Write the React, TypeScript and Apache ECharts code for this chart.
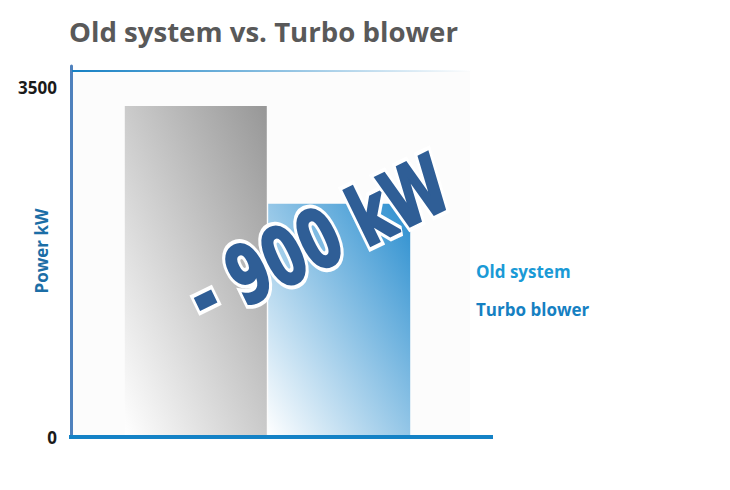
import { useEffect, useRef } from "react";
import * as echarts from "echarts";

const CATEGORIES = ["Power"];
const SERIES_NAMES = ["Old system", "Turbo blower"];
const OLD_VALUES = [3320];
const TURBO_VALUES = [2340];
const Y_LABELS = [0, 3500];
const Y_MAX = 3720;
const TITLE = "Old system vs. Turbo blower";
const Y_NAME = "Power kW";
const SAVING = "- 900 kW";

const FONT = '"Open Sans", "Noto Sans", sans-serif';
const SAVING_FONT = 'bold 80px "DejaVu Sans", sans-serif';
const SAVING_BLUE = "#2f5e96";

// the big rotated "- 900 kW" label, drawn twice: white outline + shadow underneath, thickened fill on top
function savingText(layer: "under" | "over") {
  const under = layer === "under";
  return {
    type: "text",
    z: under ? 10 : 11,
    x: 318,
    y: 240,
    scaleX: 0.7,
    rotation: (26 * Math.PI) / 180,
    style: {
      text: SAVING,
      font: SAVING_FONT,
      fill: SAVING_BLUE,
      stroke: under ? "#ffffff" : SAVING_BLUE,
      lineWidth: under ? 11 : 3,
      strokeFirst: true,
      align: "center",
      verticalAlign: "middle",
      textAlign: "center",
      textVerticalAlign: "middle",
      shadowBlur: under ? 6 : 0,
      shadowColor: under ? "rgba(0,0,0,0.35)" : "transparent",
      shadowOffsetX: under ? 3 : 0,
      shadowOffsetY: under ? 3 : 0,
    },
  };
}

export default function App() {
  const chartRef = useRef<HTMLDivElement>(null);

  useEffect(() => {
    if (!chartRef.current) return;
    const chart = echarts.init(chartRef.current, null, { renderer: "svg" });

    chart.setOption({
      animation: false,
      backgroundColor: "#ffffff",
      title: {
        text: TITLE,
        left: 64,
        top: 12,
        textStyle: { fontSize: 27.6, fontWeight: "bold", color: "#595959", fontFamily: FONT },
      },
      legend: {
        orient: "vertical",
        left: 466,
        top: 257,
        itemWidth: 0,
        itemHeight: 18,
        itemGap: 20,
        icon: "rect",
        selectedMode: false,
        textStyle: { fontSize: 17, fontWeight: "bold", fontFamily: FONT },
        data: [
          { name: SERIES_NAMES[0], textStyle: { color: "#1a9ad6" } },
          { name: SERIES_NAMES[1], textStyle: { color: "#1580c2" } },
        ],
      },
      grid: { left: 71, right: 266, top: 66, bottom: 53 },
      xAxis: {
        type: "category",
        data: CATEGORIES,
        axisLine: { show: false },
        axisTick: { show: false },
        axisLabel: { show: false },
      },
      yAxis: {
        type: "value",
        min: 0,
        max: Y_MAX,
        interval: 3500,
        splitLine: { show: false },
        axisTick: { show: false },
        axisLine: { show: true, lineStyle: { color: "#4f81bd", width: 3 } },
        axisLabel: {
          margin: 14,
          fontSize: 17,
          fontWeight: "bold",
          color: "#1a1a1a",
          fontFamily: FONT,
          formatter: (v: number) => (Y_LABELS.includes(v) ? String(v) : ""),
        },
      },
      series: [
        {
          name: SERIES_NAMES[0],
          type: "bar",
          data: OLD_VALUES,
          barWidth: 142,
          barGap: "1%",
          itemStyle: {
            color: new echarts.graphic.LinearGradient(1, 0, 0, 1, [
              { offset: 0, color: "#979797" },
              { offset: 1, color: "#ffffff" },
            ]),
          },
        },
        {
          name: SERIES_NAMES[1],
          type: "bar",
          data: TURBO_VALUES,
          barWidth: 142,
          barGap: "1%",
          itemStyle: {
            color: new echarts.graphic.LinearGradient(1, 0, 0, 1, [
              { offset: 0, color: "#2a8ecf" },
              { offset: 1, color: "#ffffff" },
            ]),
          },
        },
      ],
      graphic: [
        {
          type: "rect",
          z: 0,
          shape: { x: 72, y: 71, width: 398, height: 366 },
          style: { fill: "#fcfcfc" },
        },
        {
          type: "rect",
          z: 1,
          shape: { x: 72, y: 70, width: 400, height: 2 },
          style: {
            fill: new echarts.graphic.LinearGradient(0, 0, 1, 0, [
              { offset: 0, color: "#1580c4" },
              { offset: 1, color: "rgba(21,128,196,0)" },
            ]),
          },
        },
        {
          type: "rect",
          z: 5,
          shape: { x: 69, y: 435, width: 424, height: 4 },
          style: { fill: "#1482c6" },
        },
        {
          type: "text",
          z: 5,
          x: 41,
          y: 251,
          rotation: Math.PI / 2,
          style: {
            text: Y_NAME,
            font: `bold 17px ${FONT}`,
            fill: "#1c6ea6",
            align: "center",
            verticalAlign: "middle",
            textAlign: "center",
            textVerticalAlign: "middle",
          },
        },
        savingText("under"),
        savingText("over"),
      ],
    });

    return () => chart.dispose();
  }, []);

  return (
    <div
      ref={chartRef}
      style={{ position: "fixed", left: 0, top: 0, width: "730px", height: "490px" }}
    />
  );
}
